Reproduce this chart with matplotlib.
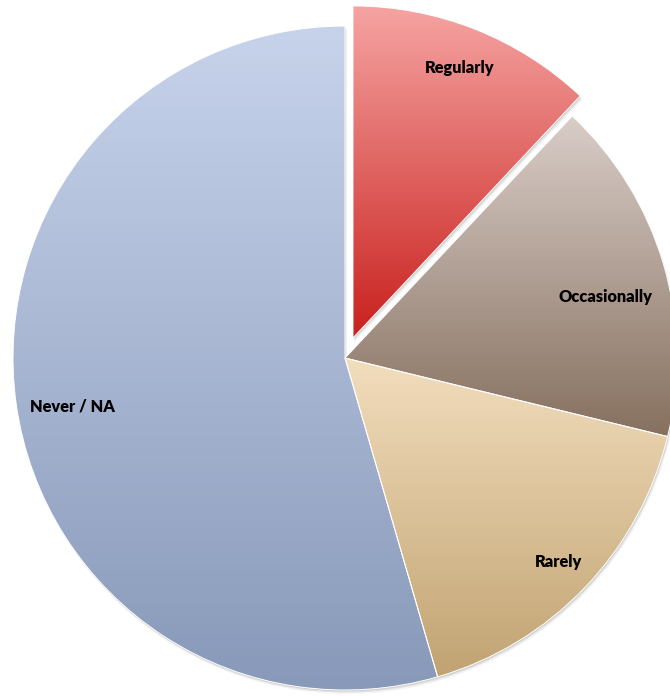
import numpy as np
import matplotlib
matplotlib.use('Agg')
import matplotlib.pyplot as plt
from matplotlib.colors import LinearSegmentedColormap
from matplotlib.patches import Wedge

# data (percent of respondents)
labels = ['Regularly', 'Occasionally', 'Rarely', 'Never / NA']
shares = [12.0, 16.8, 16.7, 54.5]
explode = [0.065, 0, 0, 0]

# vertical gradient per wedge (top -> bottom)
top_colors = ['#f5a4a2', '#d9cdc8', '#f2ddbd', '#c7d3eb']
bottom_colors = ['#c9211e', '#86705f', '#c1a372', '#8899b9']
# label placement: fraction of radius, angle offset (deg) from wedge middle
label_r = [0.875, 0.805, 0.89, 0.834]
label_dang = [0.0, -3.4, 0.0, 2.0]

fig = plt.figure(figsize=(6.7, 6.96), dpi=100)
ax = fig.add_axes([0, 0, 1, 1])

wedges, _ = ax.pie(shares, explode=explode, startangle=90, counterclock=False,
                   radius=1.0, wedgeprops=dict(linewidth=0.7, edgecolor='white'))

for i, w in enumerate(wedges):
    cx, cy = w.center
    r = w.r
    t1, t2 = w.theta1, w.theta2
    ang = np.radians(np.linspace(t1, t2, 200))
    ys = np.concatenate([[cy], cy + r * np.sin(ang)])
    xs = np.concatenate([[cx], cx + r * np.cos(ang)])

    # soft shadow underneath
    for k, a in zip([0.004, 0.008, 0.012], [0.10, 0.07, 0.04]):
        ax.add_patch(Wedge((cx + k * 0.5, cy - k), r, t1, t2, facecolor='black',
                           edgecolor='none', alpha=a, zorder=0))

    cmap = LinearSegmentedColormap.from_list(f'g{i}', [bottom_colors[i], top_colors[i]])
    grad = np.linspace(0, 1, 256).reshape(-1, 1)
    im = ax.imshow(grad, cmap=cmap, origin='lower', aspect='auto',
                   extent=(xs.min(), xs.max(), ys.min(), ys.max()), zorder=1,
                   interpolation='bilinear')
    im.set_clip_path(w)
    w.set_facecolor('none')
    w.set_zorder(2)

    mid = np.radians((t1 + t2) / 2 + label_dang[i])
    ax.text(cx + r * label_r[i] * np.cos(mid), cy + r * label_r[i] * np.sin(mid),
            labels[i], ha='center', va='center', fontsize=11.8,
            fontweight='heavy', family=['Lato', 'DejaVu Sans'], color='black', zorder=3)

ax.set_xlim(-345 / 332, (670 - 345) / 332)
ax.set_ylim(-(696 - 358) / 332, 358 / 332)
ax.set_aspect('equal')
ax.axis('off')

fig.savefig('out.png', dpi=100, facecolor='white')
